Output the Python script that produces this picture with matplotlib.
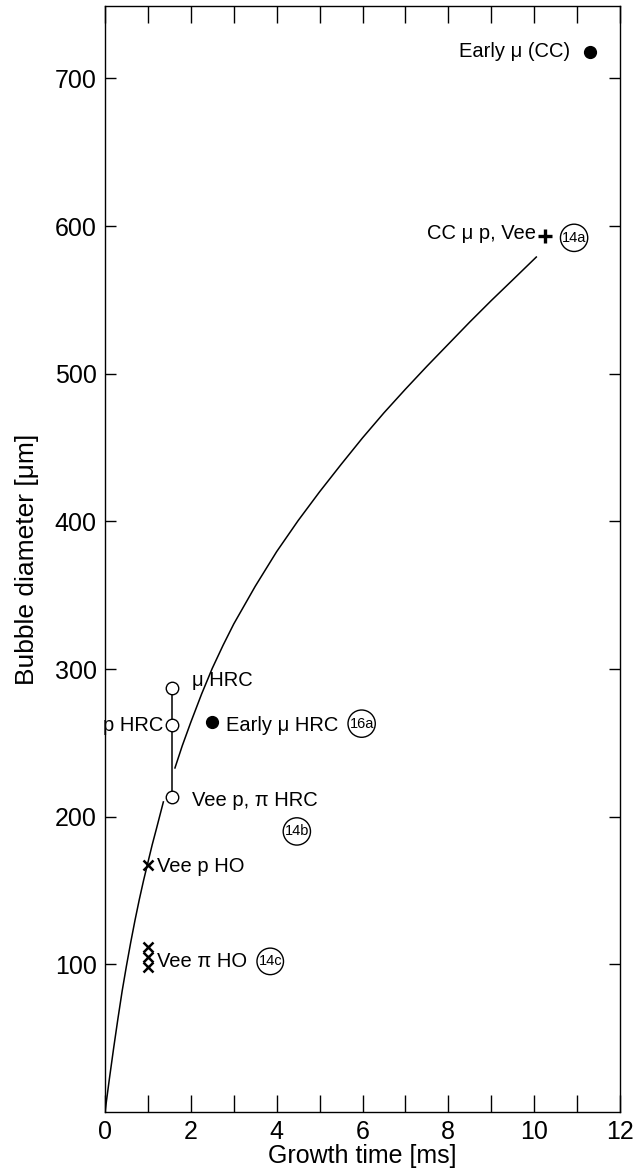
import matplotlib
matplotlib.use("Agg")
import matplotlib.pyplot as plt
from matplotlib.ticker import MultipleLocator, FixedLocator

plt.rcParams['font.family'] = ['Liberation Sans', 'DejaVu Sans']

# Growth curve (two segments, broken around the HRC points)
curve_low_t = [0.0, 0.1, 0.2, 0.3, 0.4, 0.5, 0.6, 0.7, 0.8, 0.9, 1.0, 1.1, 1.2, 1.36]
curve_low_d = [0.0, 22, 43, 63, 82, 99, 115, 130, 144, 157, 169, 181, 192, 210]
curve_up_t = [1.63, 1.8, 2.0, 2.25, 2.5, 2.75, 3.0, 3.5, 4.0, 4.5, 5.0, 5.5, 6.0,
              6.5, 7.0, 7.5, 8.0, 8.5, 9.0, 9.5, 10.05]
curve_up_d = [233, 248, 264, 283, 300.5, 316, 330.5, 356, 379.5, 400.5, 420, 438.5, 456.5,
              473.5, 489.5, 505, 520, 535, 549.5, 563.5, 579]

# HRC open circles (joined by a vertical bar)
hrc_t = [1.55, 1.55, 1.55]
hrc_d = [287, 262, 213]

# Filled circles: early muons
early_t = [2.49, 11.3]
early_d = [264, 718]

# Cross-chamber plus marker
cc_t = [10.26]
cc_d = [593]

# HO crosses
ho_t = [1.01, 1.01, 1.01, 1.01]
ho_d = [167, 112, 105, 98]

# Circled reference tags
tag_names = ["14a", "14b", "14c", "16a"]
tag_t = [10.93, 4.47, 3.85, 5.98]
tag_d = [592, 190, 102, 263]

# Point labels: text, x, y, horizontal alignment
labels = [
    ("Early \u03bc (CC)", 10.84, 718, "right"),
    ("CC \u03bc p, Vee", 10.05, 595, "right"),
    ("\u03bc HRC", 2.02, 292, "left"),
    ("p HRC", 1.35, 262, "right"),
    ("Early \u03bc HRC", 2.83, 262, "left"),
    ("Vee p, \u03c0 HRC", 2.02, 211, "left"),
    ("Vee p HO", 1.21, 166, "left"),
    ("Vee \u03c0 HO", 1.21, 102, "left"),
]

fig = plt.figure(figsize=(6.44, 11.71), dpi=100)
ax = fig.add_axes([105 / 644, 1 - 1112 / 1171, 515 / 644, 1106 / 1171])

ax.plot(curve_low_t, curve_low_d, color='black', lw=1.1)
ax.plot(curve_up_t, curve_up_d, color='black', lw=1.1)

ax.plot(hrc_t, hrc_d, color='black', lw=1.1, marker='o', ms=9,
        mfc='white', mec='black', mew=1.0, zorder=3)
ax.plot(early_t, early_d, ls='none', marker='o', ms=8.5, color='black', zorder=3)
ax.plot(cc_t, cc_d, ls='none', marker='+', ms=10, mew=2.4, color='black', zorder=3)
ax.plot(ho_t, ho_d, ls='none', marker='x', ms=6.5, mew=1.8, color='black', zorder=3)

for name, t, d in zip(tag_names, tag_t, tag_d):
    ax.text(t, d, name, ha='center', va='center', fontsize=10.5,
            bbox=dict(boxstyle='circle,pad=0.1', fc='white', ec='black', lw=1.0))

for txt, t, d, ha in labels:
    ax.text(t, d, txt, ha=ha, va='center', fontsize=14.5)

ax.set_xlim(0, 12)
ax.set_ylim(0, 749)
ax.xaxis.set_major_locator(MultipleLocator(2))
ax.xaxis.set_minor_locator(MultipleLocator(1))
ax.yaxis.set_major_locator(FixedLocator([100, 200, 300, 400, 500, 600, 700]))

ax.tick_params(axis='x', which='both', direction='in', length=12, width=1.0,
               top=True, labelsize=18, pad=6)
ax.tick_params(axis='y', which='both', direction='in', length=8, width=1.0,
               right=True, labelsize=18, pad=6)
for sp in ax.spines.values():
    sp.set_linewidth(1.0)

ax.set_xlabel("Growth time [ms]", fontsize=18, labelpad=0)
ax.set_ylabel("Bubble diameter [\u03bcm]", fontsize=19, labelpad=11)

fig.savefig("out.png", dpi=100)
